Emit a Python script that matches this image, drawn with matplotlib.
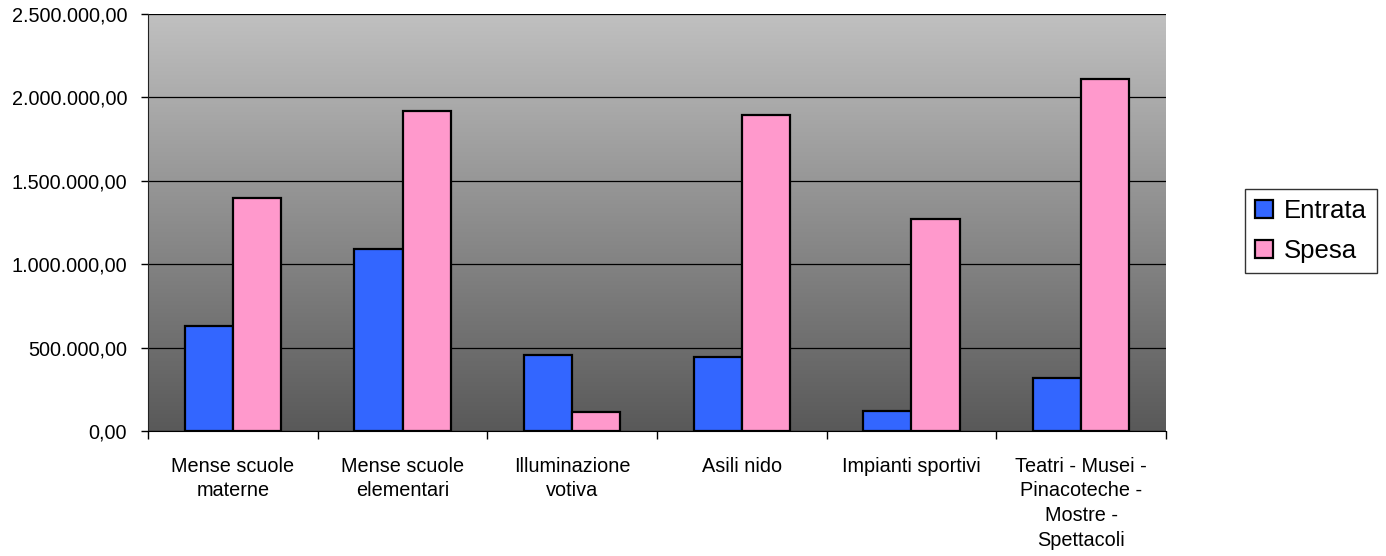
import numpy as np
import matplotlib
matplotlib.use('Agg')
import matplotlib.pyplot as plt
from matplotlib.patches import Patch
from matplotlib.ticker import FuncFormatter, FixedLocator

categories = ['Mense scuole\nmaterne', 'Mense scuole\nelementari', 'Illuminazione\nvotiva',
              'Asili nido', 'Impianti sportivi',
              'Teatri - Musei -\nPinacoteche -\nMostre -\nSpettacoli']
entrata = [631000, 1091000, 456000, 445000, 122000, 316000]
spesa = [1395000, 1918000, 112000, 1893000, 1271000, 2110000]
series_names = ['Entrata', 'Spesa']
y_ticks = [0, 500000, 1000000, 1500000, 2000000, 2500000]

plt.rcParams['font.family'] = ['Liberation Sans', 'DejaVu Sans']

fig = plt.figure(figsize=(13.86, 5.56), dpi=100)
ax = fig.add_axes([148 / 1386, 125 / 556, (1166 - 148) / 1386, 417 / 556])

# gradient background, light on top, dark at bottom
grad = np.linspace(0, 1, 256).reshape(-1, 1)
ax.imshow(grad, extent=[0, 1, 0, 1], transform=ax.transAxes, aspect='auto',
          cmap=matplotlib.colors.LinearSegmentedColormap.from_list('g', ['#c0c0c0', '#595959']),
          zorder=0)

x = np.arange(len(categories))
w = 0.283
ax.bar(x - w / 2, entrata, w, color='#3366ff', edgecolor='black', linewidth=1.6, zorder=3)
ax.bar(x + w / 2, spesa, w, color='#ff99cc', edgecolor='black', linewidth=1.6, zorder=3)

ax.set_xlim(-0.5, len(categories) - 0.5)
ax.set_ylim(0, 2500000)
ax.yaxis.set_major_locator(FixedLocator(y_ticks))
ax.yaxis.set_major_formatter(FuncFormatter(
    lambda v, p: f"{v:,.2f}".replace(',', 'X').replace('.', ',').replace('X', '.')))
ax.grid(axis='y', color='black', linewidth=0.9, zorder=1)

ax.set_xticks(x)
ax.set_xticklabels(categories, fontsize=14.3, linespacing=1.38, va='top')
ax.set_xticks(np.arange(len(categories) + 1) - 0.5, minor=True)
ax.tick_params(axis='x', which='major', length=0, pad=18.5)
ax.tick_params(axis='x', which='minor', length=6, width=1, color='black')
ax.tick_params(axis='y', length=5, width=1, labelsize=14.3, pad=10)

for s in ['top', 'right']:
    ax.spines[s].set_visible(False)
ax.spines['left'].set_color('#222222')
ax.spines['bottom'].set_color('black')

handles = [Patch(facecolor='#3366ff', edgecolor='black', linewidth=1.6),
           Patch(facecolor='#ff99cc', edgecolor='black', linewidth=1.6)]
leg = fig.legend(handles, series_names, loc='upper left', bbox_to_anchor=(1245 / 1386, 367 / 556),
                 fontsize=18.5, frameon=True, fancybox=False, edgecolor='black',
                 handlelength=0.7, handleheight=0.7, handletextpad=0.4,
                 borderpad=0.4, labelspacing=0.6, borderaxespad=0)
leg.get_frame().set_linewidth(1)

fig.savefig('out.png', dpi=100)
